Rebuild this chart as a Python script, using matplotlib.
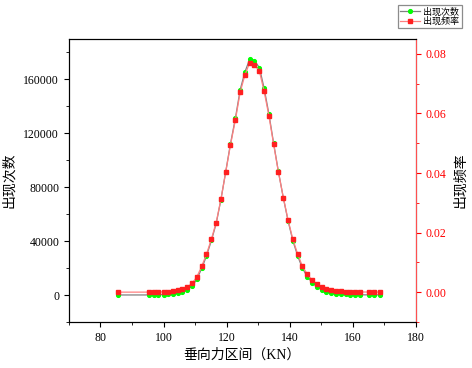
import matplotlib
matplotlib.use("Agg")
import matplotlib.pyplot as plt
from matplotlib.ticker import MultipleLocator

plt.rcParams['font.family'] = ['Liberation Serif', 'Noto Sans CJK SC', 'DejaVu Sans']
plt.rcParams['axes.unicode_minus'] = False

# load intervals (KN)
force = [85.5,
         95.4, 96.9, 98.4, 100.0, 101.5, 103.0, 104.5, 106.0, 107.6, 109.1,
         110.6, 112.1, 113.6, 115.2, 116.7, 118.2, 119.7, 121.2, 122.8, 124.3,
         125.8, 127.3, 128.8, 130.4, 131.9, 133.4, 134.9, 136.4, 138.0, 139.5,
         141.0, 142.5, 144.0, 145.6, 147.1, 148.6, 150.1, 151.6, 153.2, 154.7,
         156.2, 157.7, 159.2, 160.8, 162.3,
         165.3, 166.8, 168.7]

# number of occurences in each interval
counts = [50,
          70, 110, 180, 270, 410, 680, 1360, 2270, 4090, 6810,
          11800, 19750, 28830, 40630, 53120, 70820, 91250, 111900, 131400, 152300,
          165500, 174900, 173900, 168800, 153400, 134600, 112800, 91940, 71960, 54930,
          40410, 29280, 19980, 13620, 9310, 6130, 3860, 2270, 1360, 910,
          680, 450, 340, 230, 180,
          110, 90, 70]

# relative frequency
freq = [0.00002,
        0.00003, 0.00005, 0.00008, 0.00012, 0.00018, 0.00030, 0.00060, 0.00100, 0.00180, 0.00300,
        0.00520, 0.00870, 0.01270, 0.01790, 0.02340, 0.03120, 0.04020, 0.04930, 0.05790, 0.06710,
        0.07290, 0.07700, 0.07640, 0.07420, 0.06740, 0.05930, 0.04970, 0.04050, 0.03170, 0.02420,
        0.01780, 0.01290, 0.00880, 0.00600, 0.00410, 0.00270, 0.00170, 0.00100, 0.00060, 0.00040,
        0.00030, 0.00020, 0.00015, 0.00010, 0.00008,
        0.00005, 0.00004, 0.00003]

fig = plt.figure(figsize=(4.72, 3.68), dpi=100)
ax = fig.add_axes([0.146, 0.125, 0.735, 0.769])

l1, = ax.plot(force, counts, color='#808080', lw=0.9, marker='o', ms=2.7,
              mfc='#00ff00', mec='#00ff00', label='出现次数')
ax.set_xlim(70, 180)
ax.set_ylim(-20000, 190000)
ax.xaxis.set_major_locator(MultipleLocator(20))
ax.xaxis.set_minor_locator(MultipleLocator(10))
ax.yaxis.set_major_locator(MultipleLocator(40000))
ax.yaxis.set_minor_locator(MultipleLocator(20000))
ax.tick_params(which='both', direction='out', labelsize=8.5, top=False, right=False)
ax.tick_params(which='major', length=3.5)
ax.tick_params(which='minor', length=2)
ax.set_xlabel('垂向力区间（KN）', fontsize=10, labelpad=3)
ax.set_ylabel('出现次数', fontsize=10, labelpad=5)

ax2 = ax.twinx()
l2, = ax2.plot(force, freq, color='#ff8080', lw=0.9, marker='s', ms=2.7,
               mfc='#ff2020', mec='#ff2020', label='出现频率')
ax2.set_ylim(-0.01, 0.085)
ax2.yaxis.set_major_locator(MultipleLocator(0.02))
ax2.yaxis.set_minor_locator(MultipleLocator(0.01))
ax2.yaxis.set_major_formatter(lambda v, p: '%.2f' % v)
ax2.tick_params(which='both', direction='out', labelsize=8.5, colors='#ff0000')
ax2.tick_params(which='major', length=3.5)
ax2.tick_params(which='minor', length=2)
ax2.spines['right'].set_color('#ff5050')
ax2.set_ylabel('出现频率', fontsize=10, labelpad=5)

leg = fig.legend(handles=[l1, l2], loc='upper right', bbox_to_anchor=(0.982, 0.992),
                 fontsize=6.5, frameon=True, fancybox=False, edgecolor='#707070',
                 handlelength=2.2, borderpad=0.25, labelspacing=0.05, handletextpad=0.4,
                 borderaxespad=0.2)
leg.get_frame().set_linewidth(0.9)

fig.savefig('out.png', dpi=100)
